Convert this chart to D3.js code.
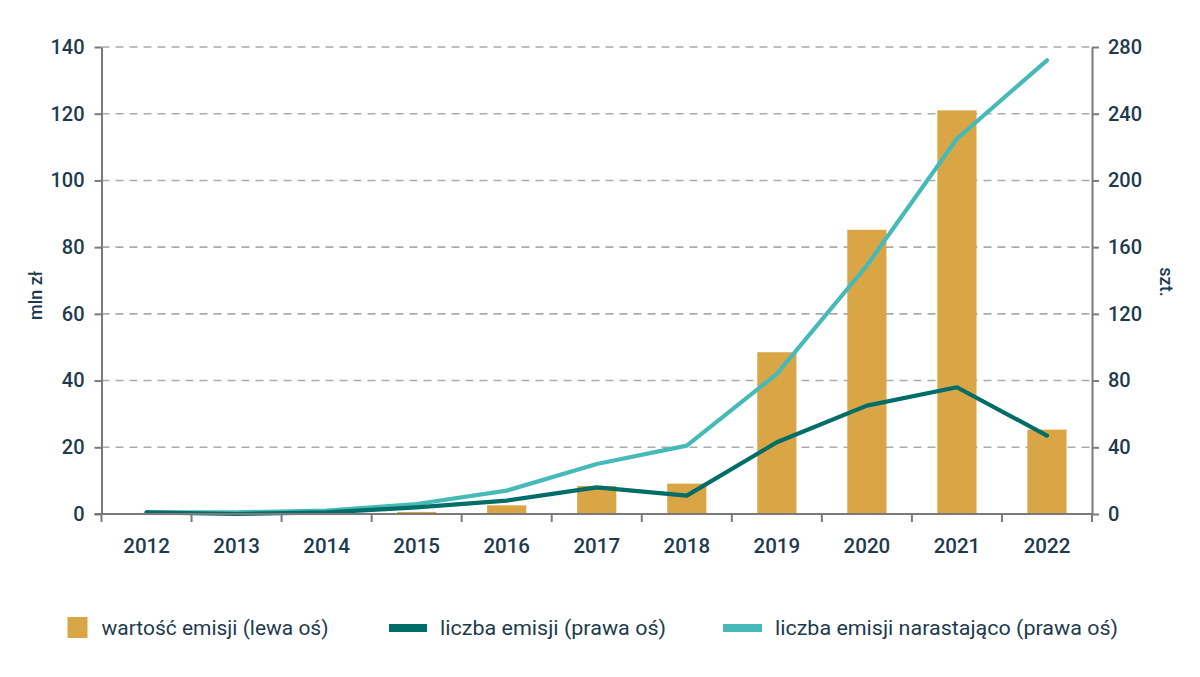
<!DOCTYPE html>
<html><head><meta charset="utf-8">
<script src="https://cdn.jsdelivr.net/npm/d3@7"></script>
<style>body{margin:0;background:#fff}svg{display:block}</style>
</head><body><svg id="c" width="1200" height="677"></svg>
<script>
const years = ["2012","2013","2014","2015","2016","2017","2018","2019","2020","2021","2022"];
const emissionValue = [0, 0, 0.2, 0.6, 2.6, 8.4, 9.1, 48.5, 85.2, 121, 25.3];
const emissionCount = [1, 0, 1, 4, 8, 16, 11, 43, 65, 76, 47];
const emissionCumulative = [1, 1, 2, 6, 14, 30, 41, 84, 149, 225, 272];
const leftTicks = [0,20,40,60,80,100,120,140];
const rightTicks = [0,40,80,120,160,200,240,280];
const legendLabels = ["wartość emisji (lewa oś)", "liczba emisji (prawa oś)", "liczba emisji narastająco (prawa oś)"];

const C = {bar:"#D9A545", dark:"#006D69", light:"#46B9B9", text:"#1E3A4E", axis:"#7a7a7a", grid:"#ababab"};
const font = "Roboto, 'Noto Sans', sans-serif";
const svg = d3.select("#c");
const L = 101.5, R = 1092, T = 47, B = 514;

const x = d3.scaleBand().domain(years).range([L, R]).paddingInner(0.565).paddingOuter(0.2825);
const xb = d3.scaleBand().domain(years).range([L, R]);
const yL = d3.scaleLinear().domain([0,140]).range([B,T]);
const yR = d3.scaleLinear().domain([0,280]).range([B,T]);

// gridlines
svg.append("g").selectAll("line").data(leftTicks.filter(d=>d>0)).join("line")
  .attr("x1", L).attr("x2", R).attr("y1", d=>yL(d)).attr("y2", d=>yL(d))
  .attr("stroke", C.grid).attr("stroke-width", 1.6).attr("stroke-dasharray", "8,6");

// bars
svg.append("g").selectAll("rect").data(years).join("rect")
  .attr("x", d=>x(d)).attr("width", x.bandwidth())
  .attr("y", (d,i)=>yL(emissionValue[i])).attr("height", (d,i)=>B - yL(emissionValue[i]))
  .attr("fill", C.bar);

// lines
const lineL = arr => d3.line().x((d,i)=>xb(years[i]) + xb.bandwidth()/2).y(d=>yR(d))(arr);
svg.append("path").attr("d", lineL(emissionCumulative)).attr("fill","none")
  .attr("stroke", C.light).attr("stroke-width", 4.2).attr("stroke-linejoin","round").attr("stroke-linecap","round");
svg.append("path").attr("d", lineL(emissionCount)).attr("fill","none")
  .attr("stroke", C.dark).attr("stroke-width", 4.2).attr("stroke-linejoin","round").attr("stroke-linecap","round");

// axes
function styleAxis(g){
  g.select(".domain").attr("stroke", C.axis).attr("stroke-width", 2);
  g.selectAll(".tick line").attr("stroke", C.axis).attr("stroke-width", 2);
  g.selectAll(".tick text").attr("fill", C.text).attr("font-family", font)
    .attr("font-size", 20).attr("font-weight", 500);
}
svg.append("g").attr("transform", `translate(${L},0)`)
  .call(d3.axisLeft(yL).tickValues(leftTicks).tickSize(7).tickSizeOuter(0).tickPadding(10))
  .call(styleAxis);
svg.append("g").attr("transform", `translate(${R},0)`)
  .call(d3.axisRight(yR).tickValues(rightTicks).tickSize(7).tickSizeOuter(0).tickPadding(9))
  .call(styleAxis);
const xAxis = svg.append("g").attr("transform", `translate(0,${B})`)
  .call(d3.axisBottom(xb).tickSize(0).tickSizeOuter(0).tickPadding(24))
  .call(styleAxis);
xAxis.selectAll(".tick text").attr("font-size", 20.5);
xAxis.select(".domain").attr("d", `M${L-7},0H${R}`);
// boundary ticks
xAxis.append("g").selectAll("line").data(years.concat(["end"])).join("line")
  .attr("x1", (d,i)=> i<years.length ? xb(d) : R).attr("x2", (d,i)=> i<years.length ? xb(d) : R)
  .attr("y1", 0).attr("y2", 8).attr("stroke", C.axis).attr("stroke-width", 2);

// axis titles
svg.append("text").attr("transform", `translate(41.5,295.5) rotate(-90)`)
  .attr("text-anchor","middle").attr("fill", C.text).attr("font-family", font)
  .attr("font-size", 18).attr("font-weight", 500).text("mln zł");
svg.append("text").attr("transform", `translate(1160,282) rotate(90)`)
  .attr("text-anchor","middle").attr("fill", C.text).attr("font-family", font)
  .attr("font-size", 18).attr("font-weight", 500).text("szt.");

// legend
const lg = svg.append("g");
const items = [
  {sx:67.5, sw:20, sy:617, sh:21, color:C.bar, tx:101.5, tw:227},
  {sx:389, sw:38, sy:624, sh:8, color:C.dark, tx:440, tw:226},
  {sx:723, sw:39, sy:624, sh:8, color:C.light, tx:775, tw:343}
];
items.forEach((it,i)=>{
  lg.append("rect").attr("x", it.sx).attr("y", it.sy).attr("width", it.sw).attr("height", it.sh).attr("fill", it.color);
  lg.append("text").attr("x", it.tx).attr("y", 634.5).attr("fill", C.text).attr("font-family", font)
    .attr("font-size", 20.5).attr("textLength", it.tw).attr("lengthAdjust","spacingAndGlyphs").text(legendLabels[i]);
});
</script></body></html>
